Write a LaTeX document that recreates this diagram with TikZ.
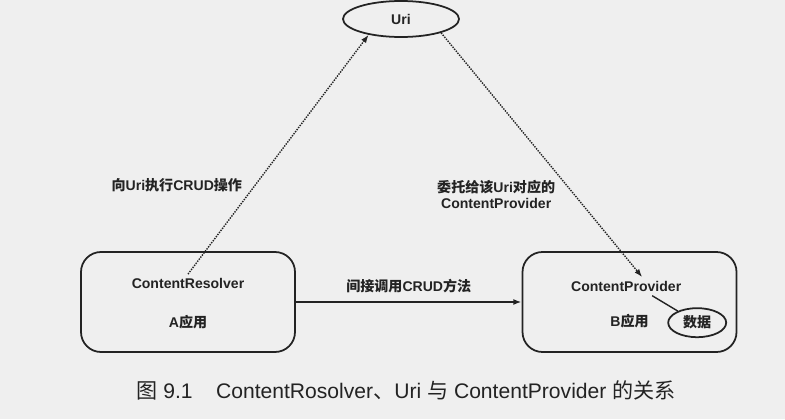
\documentclass[tikz,border=0pt]{standalone}
\usepackage{fontspec}
\setmainfont{Liberation Sans}
\newfontfamily\cjk{Noto Sans CJK SC}
\usetikzlibrary{arrows.meta,positioning,shapes.geometric}
\definecolor{paper}{RGB}{239,239,239}
\definecolor{ink}{RGB}{35,35,35}
\tikzset{
	appbox/.style={draw=ink,line width=1.5pt,rounded corners=0.6cm,minimum width=6.42cm,minimum height=3cm},
	oval/.style={ellipse,draw=ink,line width=1.5pt,inner sep=0pt},
	lbl/.style={font=\fontsize{12}{13.7}\selectfont\bfseries,text=ink,align=center},
	capline/.style={font=\fontsize{18}{21}\selectfont,text=ink}
}

\begin{document}
\begin{tikzpicture}[x=0.03cm,y=-0.03cm,on grid,>={Latex[length=7pt,width=5pt]}]
	\fill[paper] (0,0) rectangle (785,419);
	\useasboundingbox (0,0) rectangle (785,419);
	% Uri and the two apps
	\node[oval,lbl,minimum width=3.48cm,minimum height=1.08cm](uri) at (401,19) {Uri};
	\node[appbox](cr) at (188,302) {};
	\node[appbox](pv)[right=13.245cm of cr] {};
	\node[lbl](crtext)[below=0.69cm of cr.north] {ContentResolver};
	\node[lbl](aapp)[above=0.6cm of cr.south] {A{\cjk 应用}};
	\node[lbl](prtext)[below=0.78cm of pv.north,xshift=-0.1cm] {ContentProvider};
	\node[lbl](bapp)[above=0.63cm of pv.south] {B{\cjk 应用}};
	\node[oval,lbl,minimum width=1.74cm,minimum height=0.87cm](data)[below right=0.62cm and 2.03cm of pv] {{\cjk 数据}};
	\path[->,densely dotted,line width=1.2pt,color=ink]
	(crtext.north) edge node[lbl,pos=.37,left=7pt] {{\cjk 向}Uri{\cjk 执行}CRUD{\cjk 操作}} (uri.206)
	(uri.341) edge node[lbl,pos=.66,left=12pt] {{\cjk 委托给该}Uri{\cjk 对应的}\\ContentProvider} ([xshift=0.48cm]prtext.north);
	\draw[->,line width=1.5pt,draw=ink] (cr) -- node[lbl,above=4pt] {{\cjk 间接调用}CRUD{\cjk 方法}} (pv);
	\draw[line width=1.2pt,draw=ink] ([xshift=0.78cm]prtext.south) -- (data);
	% caption
	\node[capline](caption) at (406,390) {{\cjk 图} 9.1\hspace{20pt}ContentRosolver{\cjk 、}Uri {\cjk 与} ContentProvider {\cjk 的关系}};
\end{tikzpicture}
\end{document}
